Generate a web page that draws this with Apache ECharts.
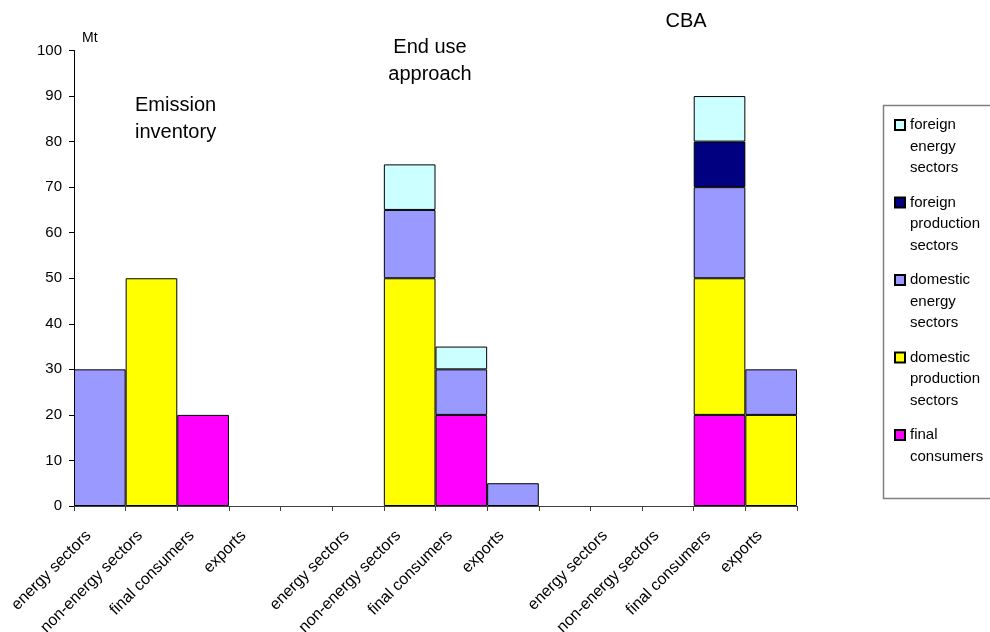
<!DOCTYPE html>
<html>
<head>
<meta charset="utf-8">
<script src="https://cdn.jsdelivr.net/npm/echarts@6/dist/echarts.min.js"></script>
<style>
  html, body { margin: 0; padding: 0; background: #fff; }
  #chart { width: 990px; height: 632px; }
</style>
</head>
<body>
<div id="chart"></div>
<script>
// Accounting approaches, each shown as a block of four sector columns
const approaches = ['Emission inventory', 'End use approach', 'CBA'];
const sectorLabels = ['energy sectors', 'non-energy sectors', 'final consumers', 'exports'];
const yTicks = [0, 100, 10]; // min, max, step (Mt)

// Emissions in Mt, per approach, in sector order (null = no contribution)
const finalConsumers = {
  inventory: [null, null, 20, null],
  endUse:    [null, null, 20, null],
  cba:       [null, null, 20, null]
};
const domesticProduction = {
  inventory: [null, 50, null, null],
  endUse:    [null, 50, null, null],
  cba:       [null, null, 30, 20]
};
const domesticEnergy = {
  inventory: [30, null, null, null],
  endUse:    [null, 15, 10, 5],
  cba:       [null, null, 20, 10]
};
const foreignProduction = {
  inventory: [null, null, null, null],
  endUse:    [null, null, null, null],
  cba:       [null, null, 10, null]
};
const foreignEnergy = {
  inventory: [null, null, null, null],
  endUse:    [null, 10, 5, null],
  cba:       [null, null, 10, null]
};

// Join the three blocks with one empty spacer column between them
const blockKeys = ['inventory', 'endUse', 'cba'];
const categories = [];
blockKeys.forEach((k, i) => {
  if (i > 0) categories.push('');
  categories.push(...sectorLabels);
});
function columnValues(src) {
  const out = [];
  blockKeys.forEach((k, i) => {
    if (i > 0) out.push(null);
    out.push(...src[k]);
  });
  return out;
}

const seriesDefs = [
  { name: 'final consumers',              color: '#FF00FF', src: finalConsumers },
  { name: 'domestic production sectors',  color: '#FFFF00', src: domesticProduction },
  { name: 'domestic energy sectors',      color: '#9999FF', src: domesticEnergy },
  { name: 'foreign production sectors',   color: '#000080', src: foreignProduction },
  { name: 'foreign energy sectors',       color: '#CCFFFF', src: foreignEnergy }
];

const FONT = '"Liberation Sans", Arial, sans-serif';
const LINE_H = 21.5;
const MARK = 10;
// Every legend entry is laid out as three text lines; the marker path is a
// square at the top of a tall box so it lines up with the first line.
const ICON_H = 2 * LINE_H + MARK;
const legendIcon = 'path://M0,0H' + MARK + 'V' + MARK + 'H0Z M0,' + ICON_H;

const chart = echarts.init(document.getElementById('chart'), null, { renderer: 'canvas' });

chart.setOption({
  animation: false,
  backgroundColor: '#ffffff',
  textStyle: { fontFamily: FONT },
  grid: {
    left: 74, right: 193, top: 50.5, bottom: 126,
    containLabel: false, outerBoundsMode: 'none'
  },
  xAxis: {
    type: 'category',
    data: categories,
    boundaryGap: true,
    axisLine: { show: true, lineStyle: { color: '#404040', width: 1 } },
    axisTick: { show: true, interval: 0, length: 5, lineStyle: { color: '#404040' } },
    axisLabel: {
      interval: 0, rotate: 45, margin: 16,
      padding: [0, 16, 0, 0],
      fontSize: 16, color: '#000', fontFamily: FONT
    },
    splitLine: { show: false }
  },
  yAxis: {
    type: 'value',
    min: yTicks[0], max: yTicks[1], interval: yTicks[2],
    axisLine: { show: true, lineStyle: { color: '#000', width: 1 } },
    axisTick: { show: true, length: 5, lineStyle: { color: '#000' } },
    axisLabel: { fontSize: 15, color: '#000', margin: 12, fontFamily: FONT },
    splitLine: { show: false }
  },
  legend: {
    orient: 'vertical',
    left: 894,
    top: 125 - MARK / 2 - (1.5 * LINE_H - ICON_H / 2),
    padding: 0,
    itemGap: 77.5 - 3 * LINE_H,
    itemWidth: MARK,
    itemHeight: ICON_H,
    icon: legendIcon,
    formatter: name => {
      const words = name.split(' ');
      while (words.length < 3) words.push(' ');
      return words.join('\n');
    },
    textStyle: { fontSize: 15, lineHeight: LINE_H, color: '#000', fontFamily: FONT },
    data: seriesDefs.map(d => d.name).reverse()
  },
  graphic: [
    {
      type: 'rect', z: -1,
      shape: { x: 883.5, y: 105.5, width: 130, height: 393 },
      style: { fill: 'none', stroke: '#808080', lineWidth: 1.5 }
    },
    {
      type: 'text', left: 82, top: 31,
      style: { text: 'Mt', fill: '#000', font: '14px ' + FONT }
    },
    {
      type: 'text', left: 135, top: 91.5,
      style: { text: 'Emission\ninventory', font: '20px ' + FONT, lineHeight: 27, fill: '#000' }
    },
    {
      type: 'text', x: 430, y: 33.5,
      style: { text: 'End use\napproach', font: '20px ' + FONT, lineHeight: 27, fill: '#000', align: 'center' }
    },
    {
      type: 'text', x: 686, y: 7.5,
      style: { text: 'CBA', font: '20px ' + FONT, lineHeight: 27, fill: '#000', align: 'center' }
    }
  ],
  series: seriesDefs.map(d => ({
    name: d.name,
    type: 'bar',
    stack: 'total',
    barCategoryGap: '0%',
    data: columnValues(d.src),
    itemStyle: { color: d.color, borderColor: '#000', borderWidth: 1 },
    emphasis: { disabled: true }
  }))
});
</script>
</body>
</html>
